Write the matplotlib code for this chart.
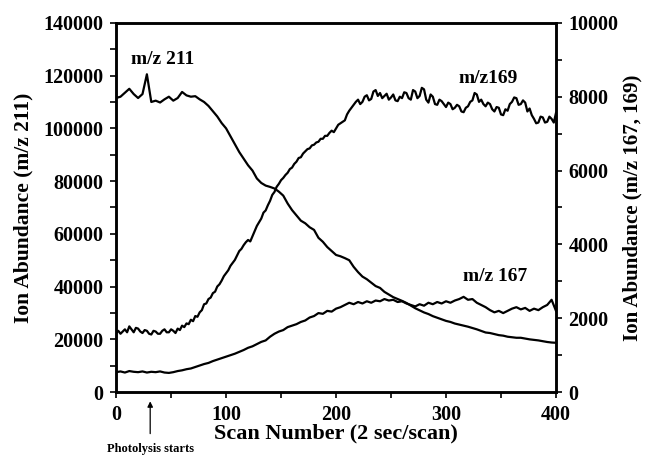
import numpy as np
import matplotlib
matplotlib.use("Agg")
import matplotlib.pyplot as plt
from matplotlib.ticker import MultipleLocator

# scan numbers
scans = list(range(0, 401, 4))
scans_fine = list(range(0, 401, 2))

# m/z 211, left axis (thousands of counts), every 4th scan
mz211 = [111.5, 112.0, 113.5, 115.0, 113.0, 111.5, 113.0, 120.5, 110.0, 110.5,
         109.8, 111.0, 112.0, 110.5, 111.5, 113.8, 112.5, 112.0, 112.2, 111.0,
         110.0, 108.5, 106.5, 104.5, 102.0, 100.0, 97.0, 94.0, 91.0, 88.5,
         86.0, 84.0, 81.0, 79.3, 78.3, 77.8, 77.2, 76.0, 74.5, 71.5,
         69.0, 67.0, 65.0, 64.0, 62.5, 61.5, 58.5, 57.0, 55.0, 53.5,
         52.0, 51.5, 50.8, 50.0, 47.5, 45.5, 43.8, 42.8, 41.5, 40.2,
         39.5, 38.0, 37.0, 36.0, 35.3, 34.6, 33.8, 32.8, 31.8, 31.0,
         30.2, 29.6, 28.8, 28.2, 27.6, 27.0, 26.6, 26.0, 25.6, 25.2,
         24.8, 24.3, 23.8, 23.2, 22.6, 22.4, 22.0, 21.6, 21.4, 21.0,
         20.8, 20.6, 20.6, 20.3, 20.0, 19.8, 19.6, 19.3, 19.0, 18.8,
         18.7]

# m/z 169, right axis (thousands), every 2nd scan
mz169 = [1.60, 1.66, 1.58, 1.64, 1.70, 1.62, 1.78, 1.70, 1.62, 1.74,
         1.72, 1.64, 1.60, 1.68, 1.66, 1.58, 1.56, 1.66, 1.64, 1.58,
         1.58, 1.66, 1.70, 1.62, 1.62, 1.70, 1.66, 1.60, 1.72, 1.68,
         1.80, 1.76, 1.86, 1.84, 1.96, 1.92, 2.06, 2.04, 2.16, 2.22,
         2.38, 2.40, 2.52, 2.56, 2.68, 2.72, 2.86, 2.92, 3.02, 3.14,
         3.22, 3.30, 3.42, 3.50, 3.58, 3.70, 3.82, 3.88, 3.98, 4.06,
         4.12, 4.08, 4.22, 4.36, 4.50, 4.60, 4.70, 4.86, 4.92, 5.06,
         5.18, 5.34, 5.42, 5.56, 5.64, 5.74, 5.80, 5.88, 5.94, 6.04,
         6.08, 6.18, 6.24, 6.34, 6.36, 6.46, 6.52, 6.58, 6.60, 6.68,
         6.70, 6.76, 6.78, 6.86, 6.86, 6.94, 6.94, 7.02, 7.08, 7.04,
         7.14, 7.24, 7.28, 7.32, 7.36, 7.52, 7.62, 7.70, 7.78, 7.86,
         7.92, 7.80, 7.86, 8.00, 8.04, 7.90, 7.94, 8.14, 8.18, 8.02,
         8.10, 7.96, 8.02, 8.08, 7.92, 7.98, 8.06, 7.90, 7.88, 8.00,
         7.96, 8.12, 8.10, 7.96, 7.92, 8.18, 8.14, 7.96, 8.02, 8.24,
         8.20, 7.92, 7.84, 8.06, 8.00, 7.80, 7.78, 7.92, 7.88, 7.80,
         7.72, 7.84, 7.80, 7.66, 7.70, 7.78, 7.74, 7.60, 7.58, 7.70,
         7.74, 7.86, 7.90, 8.10, 8.06, 7.86, 7.92, 7.80, 7.74, 7.84,
         7.80, 7.66, 7.60, 7.72, 7.70, 7.52, 7.50, 7.66, 7.62, 7.80,
         7.86, 7.98, 7.96, 7.78, 7.80, 7.90, 7.84, 7.60, 7.68, 7.50,
         7.40, 7.28, 7.30, 7.46, 7.44, 7.30, 7.32, 7.46, 7.40, 7.30,
         7.56]

# m/z 167, right axis (thousands), every 4th scan
mz167 = [0.54, 0.56, 0.53, 0.57, 0.55, 0.54, 0.56, 0.53, 0.55, 0.54,
         0.56, 0.53, 0.52, 0.54, 0.57, 0.59, 0.62, 0.64, 0.68, 0.72,
         0.76, 0.79, 0.84, 0.88, 0.92, 0.96, 1.00, 1.04, 1.09, 1.14,
         1.20, 1.24, 1.30, 1.36, 1.40, 1.50, 1.58, 1.64, 1.68, 1.76,
         1.80, 1.84, 1.90, 1.94, 2.02, 2.06, 2.14, 2.12, 2.20, 2.18,
         2.26, 2.30, 2.36, 2.42, 2.38, 2.44, 2.40, 2.46, 2.42, 2.48,
         2.46, 2.52, 2.48, 2.50, 2.44, 2.46, 2.40, 2.36, 2.32, 2.38,
         2.34, 2.42, 2.38, 2.44, 2.40, 2.46, 2.42, 2.48, 2.52, 2.58,
         2.50, 2.52, 2.42, 2.36, 2.30, 2.22, 2.16, 2.20, 2.14, 2.20,
         2.26, 2.30, 2.24, 2.28, 2.20, 2.26, 2.22, 2.30, 2.36, 2.50,
         2.20]

plt.rcParams['font.family'] = ['Liberation Serif', 'DejaVu Serif']
plt.rcParams['font.weight'] = 'bold'

fig = plt.figure(figsize=(6.45, 4.57), dpi=100)
ax = fig.add_axes([0.180, 0.142, 0.682, 0.808])
ax2 = ax.twinx()

ax.plot(scans, np.array(mz211) * 1000, color='black', linewidth=1.6)
ax2.plot(scans_fine, np.array(mz169) * 1000, color='black', linewidth=1.6)
ax2.plot(scans, np.array(mz167) * 1000, color='black', linewidth=1.6)

ax.set_xlim(0, 400)
ax.set_ylim(0, 140000)
ax2.set_ylim(0, 10000)

ax.xaxis.set_major_locator(MultipleLocator(100))
ax.xaxis.set_minor_locator(MultipleLocator(50))
ax.yaxis.set_major_locator(MultipleLocator(20000))
ax.yaxis.set_minor_locator(MultipleLocator(10000))
ax2.yaxis.set_major_locator(MultipleLocator(2000))
ax2.yaxis.set_minor_locator(MultipleLocator(1000))

for a in (ax, ax2):
    a.tick_params(which='both', direction='out', length=4, width=1.2,
                  labelsize=14.5, pad=5)
    for s in a.spines.values():
        s.set_linewidth(1.8)

ax.set_xlabel('Scan Number (2 sec/scan)', fontsize=16, fontweight='bold', labelpad=-1)
ax.set_ylabel('Ion Abundance (m/z 211)', fontsize=15.5, fontweight='bold', labelpad=7)
ax2.set_ylabel('Ion Abundance (m/z 167, 169)', fontsize=15, fontweight='bold', labelpad=3)

ax.text(42, 126000, 'm/z 211', fontsize=14, fontweight='bold', ha='center', va='center')
ax.text(338, 119000, 'm/z169', fontsize=14, fontweight='bold', ha='center', va='center')
ax.text(345, 44000, 'm/z 167', fontsize=14, fontweight='bold', ha='center', va='center')

ax.annotate('Photolysis starts', xy=(31, -0.025), xycoords=('data', 'axes fraction'),
            xytext=(31, -0.155), textcoords=('data', 'axes fraction'),
            ha='center', va='center', fontsize=9, fontweight='bold',
            arrowprops=dict(arrowstyle='-|>', color='black', lw=0.9,
                            mutation_scale=8, shrinkA=5, shrinkB=0),
            annotation_clip=False)

fig.savefig('out.png', dpi=100)
